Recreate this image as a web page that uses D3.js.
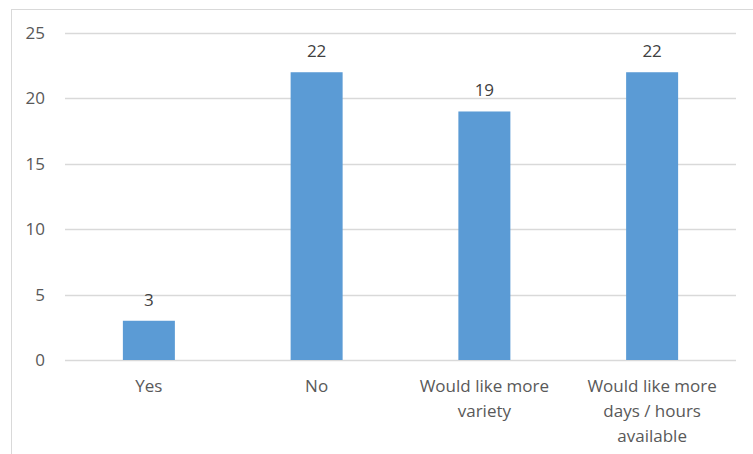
<!DOCTYPE html>
<html><head><meta charset="utf-8">
<script src="https://cdn.jsdelivr.net/npm/d3@7"></script>
<style>html,body{margin:0;padding:0;background:#fff;}svg{display:block;}</style>
</head><body>
<script>
const categories = [["Yes"], ["No"], ["Would like more", "variety"], ["Would like more", "days / hours", "available"]];
const values = [3, 22, 19, 22];
const yTicks = [0, 5, 10, 15, 20, 25];

(function () {
const W = 753, H = 454;
const svg = d3.select("body").append("svg").attr("width", W).attr("height", H);
const font = "'Open Sans', sans-serif";
const textColor = "#595959";
const fs = 17;

svg.append("rect").attr("x", 11.5).attr("y", 9.5).attr("width", 900).attr("height", 600)
  .attr("fill", "none").attr("stroke", "#d9d9d9").attr("stroke-width", 1);

const mLeft = 65, mRight = 736, mTop = 33, mBottom = 360;
const x = d3.scaleBand().domain(d3.range(categories.length)).range([mLeft, mRight])
  .paddingInner(0.69).paddingOuter(0.345);
const y = d3.scaleLinear().domain([0, 25]).range([mBottom, mTop]);

// gridlines
svg.append("g").selectAll("line").data(yTicks).join("line")
  .attr("x1", mLeft).attr("x2", mRight)
  .attr("y1", d => Math.round(y(d)) + 0.5).attr("y2", d => Math.round(y(d)) + 0.5)
  .attr("stroke", "#d9d9d9").attr("stroke-width", 1.3);

// y axis labels
const yAxis = d3.axisLeft(y).tickValues(yTicks).tickSize(0).tickPadding(0);
const ga = svg.append("g").attr("transform", `translate(45,0)`).call(yAxis);
ga.select(".domain").remove();
ga.selectAll("text").attr("font-family", font).attr("font-size", fs).attr("fill", textColor);

// bars
svg.append("g").selectAll("rect").data(values).join("rect")
  .attr("x", (d, i) => x(i)).attr("width", x.bandwidth())
  .attr("y", d => y(d)).attr("height", d => y(0) - y(d))
  .attr("fill", "#5b9bd5");

// data labels
svg.append("g").selectAll("text").data(values).join("text")
  .attr("x", (d, i) => x(i) + x.bandwidth() / 2).attr("y", d => y(d) - 15)
  .attr("text-anchor", "middle").attr("font-family", font).attr("font-size", fs)
  .attr("fill", "#404040").text(d => d);

// category labels
const cl = svg.append("g").selectAll("text").data(categories).join("text")
  .attr("text-anchor", "middle").attr("font-family", font).attr("font-size", fs)
  .attr("fill", textColor)
  .attr("transform", (d, i) => `translate(${x(i) + x.bandwidth() / 2},${y(0) + 32})`);
cl.selectAll("tspan").data(d => d).join("tspan")
  .attr("x", 0).attr("y", (d, j) => j * 25).text(d => d);
})();
</script>
</body></html>
